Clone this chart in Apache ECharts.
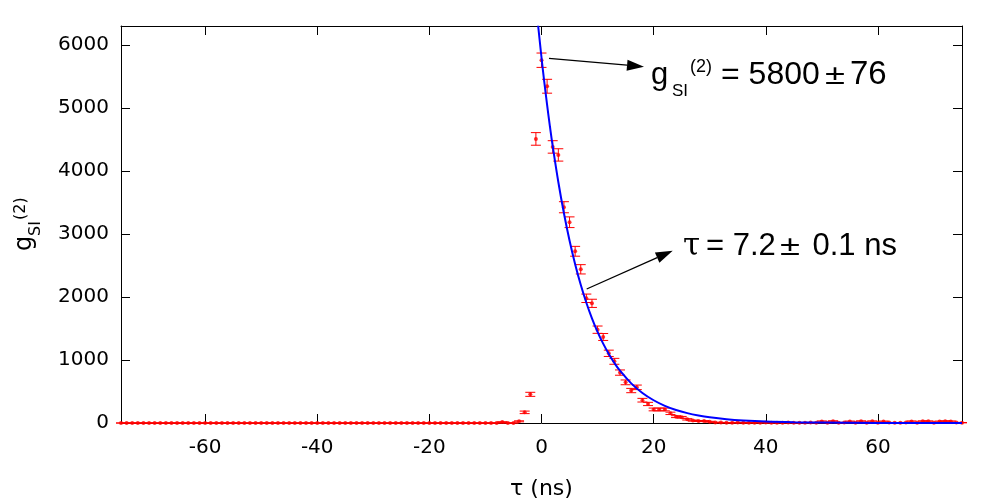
<!DOCTYPE html>
<html>
<head>
<meta charset="utf-8">
<script src="https://cdn.jsdelivr.net/npm/echarts@6/dist/echarts.min.js"></script>
<style>
html,body{margin:0;padding:0;background:#ffffff;}
#chart{width:1001px;height:501px;}
</style>
</head>
<body>
<div id="chart"></div>
<script>
// ---------- DATA ----------
// bin centres: tau = TAU_START + index (1 ns bins)
const TAU_START = -75;

// measured coincidence counts g_SI^(2) for tau = -75 ... 75 ns
const counts = [
  0,0,0,0,0,0,0,0,0,0,0,0,0,0,0,0,0,          // -75 .. -59
  0,0,0,0,0,0,0,0,0,0,0,0,0,0,0,0,0,          // -58 .. -42
  0,0,0,0,0,0,0,0,0,0,0,0,0,0,0,0,0,          // -41 .. -25
  0,0,0,0,0,0,0,0,0,0,0,0,0,0,0,0,0,          // -24 .. -8
  15,0,0,27,169,455,4508,                     // -7 .. -1
  5757,5344,4381,4254,3424,3186,2725,2439,    // 0 .. 7
  1979,1899,1481,1365,1106,979,800,645,       // 8 .. 15
  515,566,362,302,215,215,215,153,            // 16 .. 23
  101,90,58,38,32,30,20,8,6,                  // 24 .. 32
  5,3,6,4,3,5,4,6,3,5,4,6,3,5,4,6,5,          // 33 .. 49
  25,4,28,5,6,24,5,27,4,26,5,24,6,            // 50 .. 62
  4,5,6,25,5,27,26,5,24,27,25,6,5             // 63 .. 75
];

// error bar half-heights for the same bins
const errors = [
  0,0,0,0,0,0,0,0,0,0,0,0,0,0,0,0,0,
  0,0,0,0,0,0,0,0,0,0,0,0,0,0,0,0,0,
  0,0,0,0,0,0,0,0,0,0,0,0,0,0,0,0,0,
  0,0,0,0,0,0,0,0,0,0,0,0,0,0,0,0,0,
  6,0,0,8,20,32,100,
  114,110,99,98,88,85,78,74,
  67,65,58,55,50,47,42,38,
  34,36,29,26,22,22,22,19,
  15,14,11,9,8,8,7,4,4,
  3,3,4,3,3,3,3,4,3,3,3,4,3,3,3,4,3,
  8,3,8,3,4,7,3,8,3,8,3,7,4,
  3,3,4,8,3,8,8,3,7,8,8,4,3
];

// fitted exponential decay
const fitTau = [-0.6,0,0.5,1,1.5,2,3,4,5,6,7,8,9,10,11,12,13,14,16,18,20,22,24,26,28,30,33,36,40,45,50,60,75];
const fitG   = [6304,5800,5411,5048,4709,4393,3824,3328,2896,2521,2194,1909,1662,1446,1259,1096,953,830,629,476,361,273,207,157,119,90,59,39,22,11,6,1,0];

// axis ticks
const xTicks = [-60,-40,-20,0,20,40,60];
const yTicks = [0,1000,2000,3000,4000,5000,6000];

// annotation arrows in data units: [tauStart, gStart, tauEnd, gEnd]
const arrowAmp = [1.34, 5787, 18.28, 5654];
const arrowTau = [8.06, 2126, 23.4, 2734];

// ---------- CHART ----------
const points = counts.map((v, i) => [TAU_START + i, v, errors[i]]);
const fitLine = fitTau.map((t, i) => [t, fitG[i]]);

function renderErr(params, api) {
  const x = api.value(0), y = api.value(1), e = api.value(2);
  const top = api.coord([x, y + e]);
  const bot = api.coord([x, y - e]);
  const hw = 5;
  const st = {stroke: '#ff0000', lineWidth: 1};
  return {type: 'group', children: [
    {type: 'line', shape: {x1: top[0], y1: top[1], x2: bot[0], y2: bot[1]}, style: st},
    {type: 'line', shape: {x1: top[0] - hw, y1: top[1], x2: top[0] + hw, y2: top[1]}, style: st},
    {type: 'line', shape: {x1: bot[0] - hw, y1: bot[1], x2: bot[0] + hw, y2: bot[1]}, style: st}
  ]};
}

function renderArrow(params, api) {
  const p0 = api.coord([api.value(0), api.value(1)]);
  const p1 = api.coord([api.value(2), api.value(3)]);
  const dx = p1[0] - p0[0], dy = p1[1] - p0[1];
  const L = Math.sqrt(dx * dx + dy * dy);
  const ux = dx / L, uy = dy / L;
  const hl = 17, hw = 5.5;
  const bx = p1[0] - ux * hl, by = p1[1] - uy * hl;
  return {type: 'group', children: [
    {type: 'line', shape: {x1: p0[0], y1: p0[1], x2: bx, y2: by}, style: {stroke: '#000', lineWidth: 1.3}},
    {type: 'polygon', shape: {points: [[p1[0], p1[1]], [bx - uy * hw, by + ux * hw], [bx + uy * hw, by - ux * hw]]}, style: {fill: '#000'}}
  ]};
}

const tickFont = {fontFamily: 'DejaVu Sans', fontSize: 20, color: '#000000'};
const axisLineStyle = {color: '#000000', width: 1};

const baseX = {
  type: 'value', min: -75, max: 75,
  axisLine: {show: true, onZero: false, lineStyle: axisLineStyle},
  axisTick: {show: true, inside: true, length: 9, customValues: xTicks, lineStyle: axisLineStyle},
  splitLine: {show: false}
};
const baseY = {
  type: 'value', min: 0, max: 6300,
  axisLine: {show: true, onZero: false, lineStyle: axisLineStyle},
  axisTick: {show: true, inside: true, length: 9, customValues: yTicks, lineStyle: axisLineStyle},
  splitLine: {show: false}
};

function txt(x, y, text, size, family, extra) {
  const el = {type: 'text', x: x, y: y, silent: true, z: 100,
    style: {text: text, fontSize: size, fontFamily: family || 'Liberation Sans', fill: '#000000', align: 'left', verticalAlign: 'middle'}};
  if (extra) Object.assign(el, extra);
  return el;
}
const ROT = {rotation: Math.PI / 2};
const WIDE = {scaleX: 1.3};

const option = {
  animation: false,
  backgroundColor: '#ffffff',
  grid: {left: 121, right: 39, top: 26, bottom: 78, containLabel: false, outerBoundsMode: 'none'},
  xAxis: [
    Object.assign({}, baseX, {
      position: 'bottom',
      axisLabel: Object.assign({customValues: xTicks, margin: 15, formatter: v => String(v)}, tickFont),
      name: 'τ (ns)', nameLocation: 'middle', nameGap: 55,
      nameTextStyle: {fontFamily: 'DejaVu Sans', fontSize: 22, color: '#000000'}
    }),
    Object.assign({}, baseX, {position: 'top', axisLabel: {show: false}})
  ],
  yAxis: [
    Object.assign({}, baseY, {
      position: 'left',
      axisLabel: Object.assign({customValues: yTicks, margin: 12, formatter: v => String(v)}, tickFont)
    }),
    Object.assign({}, baseY, {position: 'right', axisLabel: {show: false}})
  ],
  series: [
    {type: 'custom', name: 'errors', data: points, encode: {x: 0, y: 1},
     renderItem: renderErr, clip: false, z: 2, silent: true},
    {type: 'scatter', name: 'counts', data: points.map(p => [p[0], p[1]]),
     symbol: 'circle', symbolSize: 4, itemStyle: {color: '#ff0000'}, z: 3, silent: true},
    {type: 'line', name: 'fit', data: fitLine, smooth: 0.4, showSymbol: false,
     lineStyle: {color: '#0000ff', width: 2}, z: 4, clip: true, silent: true},
    {type: 'custom', name: 'arrows', data: [arrowAmp, arrowTau], encode: {x: [0, 2], y: [1, 3]},
     renderItem: renderArrow, clip: false, z: 5, silent: true}
  ],
  graphic: [
    // annotation 1: g_SI^(2) = 5800 ± 76
    txt(651, 75, 'g', 31),
    txt(672, 91, 'SI', 17),
    txt(690, 67, '(2)', 18),
    txt(721, 75, '= 5800', 32),
    txt(825, 76, '±', 28, null, WIDE),
    txt(850, 75, '76', 33),
    // annotation 2: τ = 7.2 ± 0.1 ns
    txt(683, 246.5, 'τ', 31, 'DejaVu Serif'),
    txt(706, 246.5, '= 7.2', 31),
    txt(780, 247.5, '±', 28, null, WIDE),
    txt(812.5, 246.5, '0.1 ns', 31),
    // y-axis title g_SI^(2), rotated
    txt(25, 251, 'g', 24, 'DejaVu Sans', ROT),
    txt(35.7, 236, 'SI', 16, 'DejaVu Sans', ROT),
    txt(21, 220, '(2)', 16, 'DejaVu Sans', ROT)
  ]
};

const chart = echarts.init(document.getElementById('chart'), null, {renderer: 'canvas'});
chart.setOption(option);
</script>
</body>
</html>
